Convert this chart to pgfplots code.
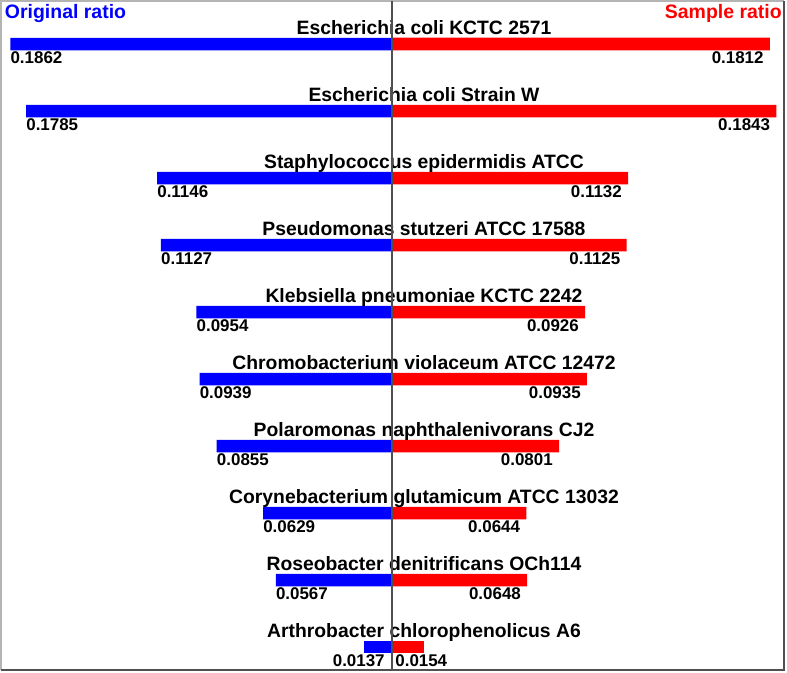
\documentclass[border=0pt]{standalone}
\usepackage{pgfplots}
\pgfplotsset{compat=1.18}
\usepackage{fontspec}
\setmainfont{Liberation Sans}
\definecolor{barblue}{RGB}{0,0,255}
\definecolor{barred}{RGB}{255,0,0}
\definecolor{frameL}{RGB}{180,180,180}
\definecolor{frameD}{RGB}{80,80,80}
\newcommand{\namefont}{\fontsize{14.5pt}{16pt}\selectfont\bfseries}
\newcommand{\titlefont}{\fontsize{14.6pt}{16pt}\selectfont\bfseries}
\newcommand{\valfont}{\fontsize{12.7pt}{14pt}\selectfont\bfseries}
\begin{document}
\begin{tikzpicture}
\useasboundingbox (0,0) rectangle (590.25pt,504pt);
\pgfplotsset{
  common/.style={
    scale only axis, hide axis, clip=false,
    height=501.75pt,
    y dir=reverse, ymin=-0.6418, ymax=9.3433,
    xbar, bar width=9.375pt, bar shift=0pt,
  }
}
% ---------- left half: original ratio ----------
\begin{axis}[common,
  at={(0.75pt,1.5pt)}, anchor=south west,
  width=293.25pt, xmin=-0.19073, xmax=0]
\addplot[draw=none, fill=barblue,
  point meta=explicit symbolic, nodes near coords,
  every node near coord/.style={anchor=base west, yshift=-14.6pt, inner sep=0pt, font=\valfont, text=black}]
  coordinates {
  (-0.1862,0) [0.1862]
  (-0.1785,1) [0.1785]
  (-0.1146,2) [0.1146]
  (-0.1127,3) [0.1127]
  (-0.0954,4) [0.0954]
  (-0.0939,5) [0.0939]
  (-0.0855,6) [0.0855]
  (-0.0629,7) [0.0629]
  (-0.0567,8) [0.0567]
  };
\addplot[draw=none, fill=barblue,
  point meta=explicit symbolic, nodes near coords,
  every node near coord/.style={anchor=base east, xshift=15.75pt, yshift=-14.6pt, inner sep=0pt, font=\valfont, text=black}]
  coordinates {
  (-0.0137,9) [0.0137]
  };
\end{axis}
% ---------- right half: sample ratio ----------
\begin{axis}[common,
  at={(294pt,1.5pt)}, anchor=south west,
  width=294pt, xmin=0, xmax=0.18801]
\addplot[draw=none, fill=barred,
  point meta=explicit symbolic, nodes near coords,
  every node near coord/.style={anchor=base east, xshift=-4.5pt, yshift=-14.6pt, inner sep=0pt, font=\valfont, text=black}]
  coordinates {
  (0.1812,0) [0.1812]
  (0.1843,1) [0.1843]
  (0.1132,2) [0.1132]
  (0.1125,3) [0.1125]
  (0.0926,4) [0.0926]
  (0.0935,5) [0.0935]
  (0.0801,6) [0.0801]
  (0.0644,7) [0.0644]
  (0.0648,8) [0.0648]
  };
\addplot[draw=none, fill=barred,
  point meta=explicit symbolic, nodes near coords,
  every node near coord/.style={anchor=base west, xshift=-21.75pt, yshift=-14.6pt, inner sep=0pt, font=\valfont, text=black}]
  coordinates {
  (0.0154,9) [0.0154]
  };
\foreach \k/\name in {0/Escherichia coli KCTC 2571,
  1/Escherichia coli Strain W,
  2/Staphylococcus epidermidis ATCC,
  3/Pseudomonas stutzeri ATCC 17588,
  4/Klebsiella pneumoniae KCTC 2242,
  5/Chromobacterium violaceum ATCC 12472,
  6/Polaromonas naphthalenivorans CJ2,
  7/Corynebacterium glutamicum ATCC 13032,
  8/Roseobacter denitrificans OCh114,
  9/Arthrobacter chlorophenolicus A6}{
  \edef\tmp{\noexpand\node[anchor=base, inner sep=0pt, font=\noexpand\namefont, xshift=24pt, yshift=7.2pt] at (axis cs:0,\k) {\name};}
  \tmp
}
\end{axis}
% frame and centre line
\draw[frameL, line width=1pt] (0.75pt,1.5pt) -- (0.75pt,503.25pt) -- (588pt,503.25pt);
\draw[frameD, line width=1.5pt] (0.75pt,1.5pt) -- (588pt,1.5pt) -- (588pt,503.25pt);
\draw[frameD, line width=0.9pt] (294pt,1.5pt) -- (294pt,503.25pt);
% titles
\node[anchor=base west, inner sep=0pt, font=\titlefont, text=barblue] at (3.5pt,490pt) {Original ratio};
\node[anchor=base east, inner sep=0pt, font=\titlefont, text=barred] at (586.5pt,490pt) {Sample ratio};
\end{tikzpicture}
\end{document}
